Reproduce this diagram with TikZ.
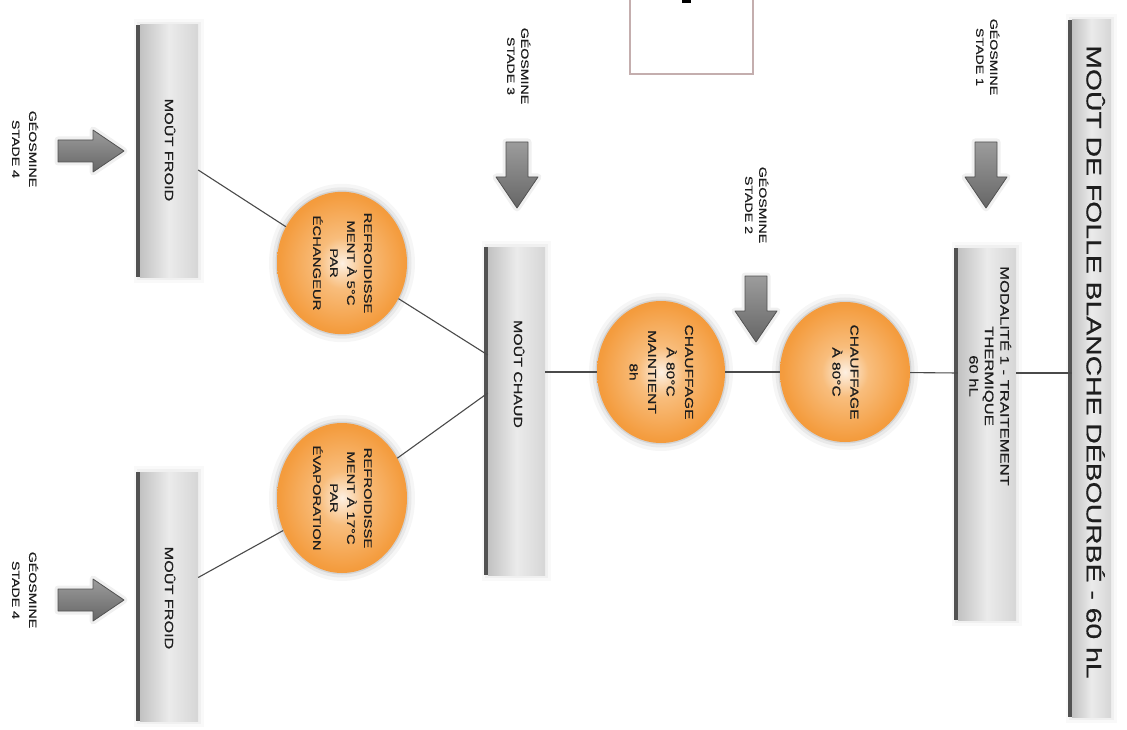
\documentclass[tikz,border=0pt]{standalone}
\usepackage{fontspec}
\usepackage{graphicx}
\setmainfont{Liberation Sans}
\newfontfamily\widesans[FakeStretch=1.35,FakeBold=0.7]{Liberation Sans}
\usetikzlibrary{shapes.geometric,calc,shadows}
\definecolor{ballA}{HTML}{FDF0E2}
\definecolor{ballB}{HTML}{F8BD7C}
\definecolor{ballC}{HTML}{F49C3E}
\definecolor{ballD}{HTML}{F08C26}
\definecolor{ballE}{HTML}{DD7516}
\definecolor{boxL}{HTML}{C2C2C2}
\definecolor{boxM}{HTML}{EBEBEB}
\definecolor{boxR}{HTML}{D6D6D6}
\definecolor{txt}{HTML}{1E1E1E}
\definecolor{lineC}{HTML}{4A4A4A}
\definecolor{arrL}{HTML}{9C9C9C}
\definecolor{arrD}{HTML}{666666}
\definecolor{frameC}{HTML}{C4AEAE}
\pgfdeclareradialshading{orangeball}{\pgfpoint{0bp}{0bp}}{color(0bp)=(ballA); color(9bp)=(ballB); color(24bp)=(ballC); color(42bp)=(ballD); color(50bp)=(ballE); color(100bp)=(ballE)}
\newcommand\vtext[3]{\rotatebox{-90}{\fontsize{#1}{#2}\selectfont\widesans\begin{tabular}{@{}c@{}}#3\end{tabular}}}
\newcommand\blockarrow[2]{\path[garrow, shift={#1}, rotate=#2] (0,-11) -- (35,-11) -- (35,-21) -- (66,0) -- (35,21) -- (35,11) -- (0,11) -- cycle;}
\tikzset{
 graybox/.style={rectangle, inner sep=0pt, left color=boxL, right color=boxR, middle color=boxM,
   preaction={draw=black, opacity=.025, line width=12pt},
   preaction={draw=black, opacity=.035, line width=6pt},
   general shadow={fill=black!68, shadow xshift=-4pt, shadow yshift=0pt}},
 ball/.style={ellipse, inner sep=0pt, shading=orangeball, text=txt,
   preaction={draw=black, opacity=.035, line width=16pt},
   preaction={draw=black, opacity=.05, line width=9pt},
   preaction={draw=black, opacity=.09, line width=3pt}},
 lbl/.style={inner sep=0pt, text=txt},
 conn/.style={draw=lineC, line width=1.1pt},
 garrow/.style={draw=arrD!80!black, line width=0.8pt, top color=arrL, bottom color=arrD, line join=round,
   preaction={draw=black, opacity=.06, line width=7pt, line join=round}},
}
\begin{document}
\begin{tikzpicture}[x=1pt,y=-1pt]
\useasboundingbox (0,0) rectangle (1127,730);
\fill[white] (0,0) rectangle (1127,730);
% partial frame at top
\draw[draw=frameC, fill=white, line width=1.2pt] (630,-4) rectangle (753,74);
\fill[black] (682,-1) rectangle (691,3);

% gray boxes
\node[graybox, minimum width=39pt, minimum height=697pt] (title) at (1091.5,368.5) {};
\node[lbl] (titletxt) at (1092,362) {\vtext{21}{25}{MOÛT DE FOLLE BLANCHE DÉBOURBÉ - 60 hL}};
\node[graybox, minimum width=58pt, minimum height=372pt] (modal) at (987,434) {};
\node[lbl] (modaltxt) at (988,376) {\vtext{12.3}{15.5}{MODALITÉ 1 - TRAITEMENT\\THERMIQUE\\60 hL}};
\node[graybox, minimum width=57pt, minimum height=328pt] (chaud) at (516.5,411) {};
\node[lbl] (chaudtxt) at (517,374) {\vtext{11.8}{14}{MOÛT CHAUD}};
\node[graybox, minimum width=58pt, minimum height=252pt] (froidA) at (169,151) {};
\node[lbl] (froidAtxt) at (168,150) {\vtext{12}{14}{MOÛT FROID}};
\node[graybox, minimum width=58pt, minimum height=249pt] (froidB) at (169,596.5) {};
\node[lbl] (froidBtxt) at (168,598) {\vtext{12}{14}{MOÛT FROID}};

% orange balls
\node[ball, minimum width=130pt, minimum height=140pt] (c1) at (845,372) {\vtext{11.5}{18}{CHAUFFAGE\\À 80°C}};
\node[ball, minimum width=128pt, minimum height=142pt] (c2) at (661,372) {\vtext{11.5}{18.5}{CHAUFFAGE\\À 80°C\\MAINTIENT\\8h}};
\node[ball, minimum width=130pt, minimum height=140pt] (r5) at (342,263) {\vtext{11}{17}{REFROIDISSE\\MENT À 5°C\\PAR\\ÉCHANGEUR}};
\node[ball, minimum width=130pt, minimum height=150pt] (r17) at (342,498) {\vtext{11}{17}{REFROIDISSE\\MENT À 17°C\\PAR\\ÉVAPORATION}};

% geosmine labels
\node[lbl] (g1) at (986,57) {\vtext{10.5}{14}{GÉOSMINE\\STADE 1}};
\node[lbl] (g2) at (755,205) {\vtext{10.5}{14}{GÉOSMINE\\STADE 2}};
\node[lbl] (g3) at (517,66) {\vtext{10.5}{14}{GÉOSMINE\\STADE 3}};
\node[lbl] (g4) at (24,149) {\vtext{10.5}{17}{GÉOSMINE\\STADE 4}};
\node[lbl] (g5) at (24,590) {\vtext{10.5}{17}{GÉOSMINE\\STADE 4}};

% block arrows
\blockarrow{(986,142)}{-90}
\blockarrow{(756,276)}{-90}
\blockarrow{(517,142)}{-90}
\blockarrow{(58,151)}{0}
\blockarrow{(58,600)}{0}

% connectors
\coordinate (axis) at (0,373);
\coordinate (chA) at ($(chaud.west |- axis)+(0,-18)$);
\coordinate (chB) at ($(chaud.west |- axis)+(0,20)$);
\coordinate (frA) at ($(froidA.east)+(0,19)$);
\coordinate (frB) at ($(froidB.east)+(0,-19)$);
\draw[conn] (title.west |- axis) -- (modal.east |- axis);
\draw[conn] (modal.west |- axis) -- (c1);
\draw[conn] (c1) -- (c2);
\draw[conn] (c2) -- (chaud.east |- c2);
\draw[conn] (chA) -- (r5);
\draw[conn] (chB) -- (r17);
\draw[conn] (frA) -- (r5);
\draw[conn] (frB) -- (r17);
\end{tikzpicture}
\end{document}
